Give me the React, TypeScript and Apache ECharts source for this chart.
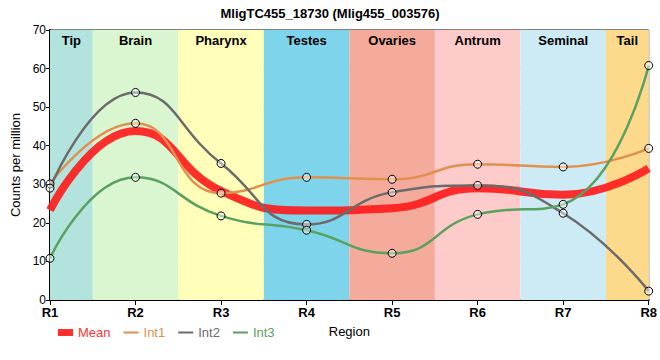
import React, { useEffect, useRef } from "react";
import * as echarts from "echarts";

const regions = [1, 2, 3, 4, 5, 6, 7, 8];
const meanValues = [23.3, 43.8, 28.3, 23.2, 23.8, 29.0, 27.3, 34.1];
const int1Values = [30.1, 45.8, 27.7, 31.8, 31.3, 35.2, 34.5, 39.3];
const int2Values = [29.0, 53.8, 35.4, 19.6, 27.9, 29.7, 22.5, 2.3];
const int3Values = [10.8, 31.8, 21.8, 18.1, 12.1, 22.2, 24.8, 60.8];

const bandNames = ["Tip", "Brain", "Pharynx", "Testes", "Ovaries", "Antrum", "Seminal", "Tail"];
const bandStarts = [1, 1.5, 2.5, 3.5, 4.5, 5.5, 6.5, 7.5];
const bandEnds = [1.5, 2.5, 3.5, 4.5, 5.5, 6.5, 7.5, 8];
const bandColors = ["#b3e3dd", "#d9f6d1", "#ffffba", "#7ed4eb", "#f5ab9b", "#fecbcb", "#cdebf5", "#fdd98b"];

const FONT = "Liberation Sans";
const meanColor = "rgba(255,25,25,0.9)";
const int1Color = "#e0904f";
const int2Color = "#6b6b6b";
const int3Color = "#5aa060";

const pairs = (vals: number[]) => regions.map((r, i) => [r, vals[i]]);

export default function App() {
  const ref = useRef<HTMLDivElement>(null);
  useEffect(() => {
    if (!ref.current) return;
    const chart = echarts.init(ref.current, undefined, { renderer: "svg" });
    const symbolStyle = {
      color: "rgba(255,255,255,0.45)",
      borderColor: "#000",
      borderWidth: 1,
    };
    const intSeries = (name: string, vals: number[], color: string) => ({
      name,
      type: "line",
      data: pairs(vals),
      smooth: 0.5,
      symbol: "circle",
      symbolSize: 8,
      showSymbol: true,
      color,
      lineStyle: { color, width: 2.5 },
      itemStyle: symbolStyle,
      z: 3,
    });
    chart.setOption({
      animation: false,
      textStyle: { fontFamily: FONT },
      title: {
        text: "MligTC455_18730 (Mlig455_003576)",
        left: "center",
        top: 2,
        textStyle: { fontSize: 13, fontWeight: "bold", color: "#000", fontFamily: FONT },
      },
      grid: {
        left: 50,
        right: 10,
        top: 30,
        bottom: 60,
        show: true,
        borderColor: "#000",
        borderWidth: 1,
        backgroundColor: "transparent",
      },
      legend: {
        left: 53,
        top: 321,
        itemWidth: 15,
        itemHeight: 7,
        itemGap: 12,
        textStyle: { fontSize: 13, fontFamily: FONT },
        data: [
          {
            name: "Mean",
            icon: "path://M0,0L15,0L15,7L0,7Z",
            itemStyle: { color: meanColor },
            textStyle: { color: "#ff3333" },
          },
          { name: "Int1", itemStyle: { opacity: 0 }, textStyle: { color: int1Color } },
          { name: "Int2", itemStyle: { opacity: 0 }, textStyle: { color: int2Color } },
          { name: "Int3", itemStyle: { opacity: 0 }, textStyle: { color: int3Color } },
        ],
      },
      xAxis: {
        type: "value",
        min: 1,
        max: 8,
        interval: 1,
        name: "Region",
        nameLocation: "middle",
        nameGap: 25,
        nameTextStyle: { fontSize: 13, color: "#000", fontFamily: FONT },
        axisLine: { show: true, lineStyle: { color: "#000", width: 2 } },
        axisTick: { show: true, length: 5, lineStyle: { color: "#000" } },
        axisLabel: {
          formatter: (v: number) => "R" + v,
          fontSize: 13,
          fontWeight: "bold",
          color: "#000",
          margin: 6,
          fontFamily: FONT,
        },
        splitLine: { show: true, lineStyle: { color: "#cccccc", width: 1 } },
      },
      yAxis: {
        type: "value",
        min: 0,
        max: 70,
        interval: 10,
        name: "Counts per million",
        nameLocation: "middle",
        nameGap: 27,
        nameTextStyle: { fontSize: 13, color: "#000", fontFamily: FONT },
        axisLine: { show: true, lineStyle: { color: "#000", width: 2 } },
        axisTick: { show: true, length: 4, lineStyle: { color: "#000" } },
        axisLabel: { fontSize: 12, color: "#000", margin: 4, fontFamily: FONT },
        splitLine: { show: true, lineStyle: { color: "#cccccc", width: 1 } },
      },
      series: [
        {
          name: "bands",
          type: "line",
          data: [[1, 0]],
          symbol: "none",
          lineStyle: { opacity: 0 },
          silent: true,
          z: -1,
          markArea: {
            silent: true,
            label: {
              show: true,
              position: "insideTop",
              distance: 4,
              fontSize: 13,
              fontWeight: "bold",
              color: "#000",
              fontFamily: FONT,
            },
            data: bandNames.map((n, i) => [
              { name: n, xAxis: bandStarts[i], itemStyle: { color: bandColors[i], opacity: 1 } },
              { xAxis: bandEnds[i] },
            ]),
          },
        },
        {
          name: "Mean",
          type: "line",
          data: pairs(meanValues),
          smooth: 0.5,
          symbol: "none",
          color: meanColor,
          lineStyle: { color: meanColor, width: 8 },
          z: 2,
        },
        intSeries("Int1", int1Values, int1Color),
        intSeries("Int2", int2Values, int2Color),
        intSeries("Int3", int3Values, int3Color),
      ],
    });
    return () => chart.dispose();
  }, []);
  return <div ref={ref} style={{ width: 660, height: 360, position: "absolute", left: 0, top: 0 }} />;
}
